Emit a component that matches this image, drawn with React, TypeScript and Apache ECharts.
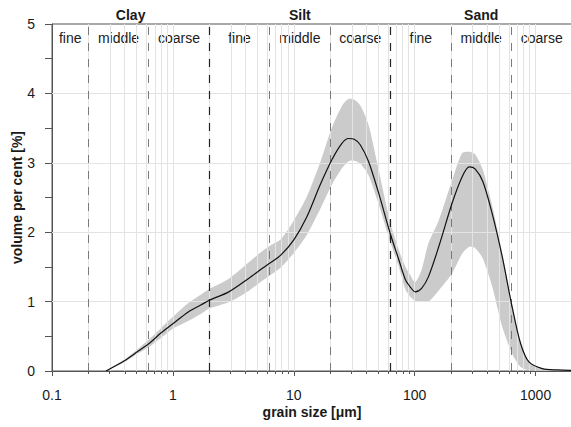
import { useEffect, useRef } from "react";
import * as echarts from "echarts";

// grain size [µm]
const sizes = [
  0.28, 0.4, 0.5, 0.64, 0.8, 1.0, 1.34, 1.7, 2.0, 2.9, 4.2, 5.5, 6.4, 7.8, 10,
  12.8, 16.5, 20.6, 25, 28.3, 31.6, 35.4, 41.5, 50, 63, 74, 84, 92, 101, 114,
  130, 158, 204, 247, 283, 317, 366, 437, 529, 640, 750, 880, 1135, 1500, 2000,
];
// mean volume per cent
const meanVals = [
  0, 0.15, 0.27, 0.4, 0.55, 0.68, 0.85, 0.95, 1.02, 1.14, 1.33, 1.48, 1.56, 1.67,
  1.89, 2.22, 2.68, 3.04, 3.28, 3.35, 3.34, 3.26, 3.02, 2.58, 1.97, 1.6, 1.31,
  1.21, 1.14, 1.19, 1.36, 1.79, 2.42, 2.8, 2.94, 2.91, 2.73, 2.27, 1.65, 0.92,
  0.4, 0.13, 0.035, 0.015, 0.01,
];
// lower envelope
const lowerVals = [
  0, 0.13, 0.24, 0.35, 0.48, 0.61, 0.72, 0.82, 0.9, 0.99, 1.15, 1.3, 1.38, 1.49,
  1.7, 1.96, 2.33, 2.68, 2.92, 3.02, 3.03, 2.99, 2.82, 2.42, 1.85, 1.5, 1.17,
  1.07, 1.01, 1.0, 1.0, 1.16, 1.41, 1.69, 1.79, 1.77, 1.62, 1.22, 0.64, 0.25,
  0.06, 0.01, 0, 0, 0,
];
// upper envelope
const upperVals = [
  0, 0.17, 0.3, 0.46, 0.62, 0.78, 0.98, 1.1, 1.18, 1.33, 1.56, 1.73, 1.81, 1.9,
  2.17, 2.51, 3.0, 3.5, 3.82, 3.92, 3.91, 3.83, 3.55, 2.92, 2.13, 1.74, 1.5,
  1.38, 1.28, 1.46, 1.84, 2.17, 2.75, 3.14, 3.16, 3.12, 2.9, 2.38, 1.7, 0.95,
  0.42, 0.14, 0.04, 0.015, 0.01,
];

const xMin = 0.1;
const xMax = 2000;
const xTickLabels = [0.1, 1, 10, 100, 1000];
const yMin = 0;
const yMax = 5;
const yGridValues = [1, 2, 3, 4];

const classNames = ["Clay", "Silt", "Sand"];
const classBounds = [0.1, 2, 63, 2000];
const subNames = ["fine", "middle", "coarse", "fine", "middle", "coarse", "fine", "middle", "coarse"];
const subBounds = [0.1, 0.2, 0.63, 2, 6.3, 20, 63, 200, 630, 2000];
const mainBoundaries = [2, 63];
const subBoundaries = [0.2, 0.63, 6.3, 20, 200, 630];

const FONT = "'Liberation Sans', Arial, sans-serif";
const lg = (v: number) => Math.log10(v);

export default function App() {
  const ref = useRef<HTMLDivElement>(null);

  useEffect(() => {
    document.body.style.margin = "0";
    if (!ref.current) return;
    const chart = echarts.init(ref.current, null, { renderer: "svg" });

    const minorVals: number[] = [];
    for (const d of [0.1, 1, 10, 100, 1000]) {
      for (let k = 1; k <= 9; k++) {
        const v = +(k * d).toPrecision(3);
        if (v > xMin && v < xMax) minorVals.push(v);
      }
    }

    const bandData = sizes.map((s, i) => [lg(s), lowerVals[i], upperVals[i]]);
    const meanData = sizes.map((s, i) => [lg(s), meanVals[i]]);

    const gridLines = [
      ...minorVals.map((v) => ({ xAxis: lg(v) })),
      ...yGridValues.map((v) => ({ yAxis: v })),
    ];

    const classAreas = classNames.map((n, i) => [
      { name: n, xAxis: lg(classBounds[i]) },
      { xAxis: lg(classBounds[i + 1]) },
    ]);
    const subAreas = subNames.map((n, i) => [
      { name: n, xAxis: lg(subBounds[i]) },
      { xAxis: lg(subBounds[i + 1]) },
    ]);

    const fmt = (v: number) => String(Number(Math.pow(10, v).toPrecision(3)));

    chart.setOption({
      animation: false,
      textStyle: { fontFamily: FONT },
      grid: {
        left: 52,
        right: -1,
        top: 24,
        bottom: 56,
        containLabel: false,
        outerBoundsMode: "none",
        show: true,
        borderColor: "#555",
        borderWidth: 1,
        backgroundColor: "transparent",
      },
      xAxis: [
        {
          type: "value",
          min: lg(xMin),
          max: lg(xMax),
          name: "grain size [μm]",
          nameLocation: "middle",
          nameGap: 34,
          nameMoveOverlap: false,
          nameTextStyle: { fontSize: 14, fontWeight: "bold", color: "#1a1a1a", fontFamily: FONT },
          axisLine: { show: true, onZero: false, lineStyle: { color: "#555", width: 1 } },
          axisTick: {
            show: true,
            length: 5,
            customValues: xTickLabels.map(lg),
            lineStyle: { color: "#555" },
          },
          axisLabel: {
            customValues: xTickLabels.map(lg),
            formatter: fmt,
            fontSize: 14,
            color: "#1a1a1a",
            margin: 17,
            fontFamily: FONT,
          },
          splitLine: { show: false },
        },
        {
          type: "value",
          position: "bottom",
          min: lg(xMin),
          max: lg(xMax),
          axisLine: { show: false, onZero: false },
          axisTick: {
            show: true,
            length: 3,
            customValues: minorVals.map(lg),
            lineStyle: { color: "#555" },
          },
          axisLabel: { show: false },
          splitLine: { show: false },
        },
      ],
      yAxis: {
        type: "value",
        min: yMin,
        max: yMax,
        interval: 1,
        name: "volume per cent [%]",
        nameLocation: "middle",
        nameGap: 28,
        nameMoveOverlap: false,
        nameRotate: 90,
        nameTextStyle: { fontSize: 14, fontWeight: "bold", color: "#1a1a1a", fontFamily: FONT },
        axisLine: { show: true, onZero: false, lineStyle: { color: "#555", width: 1 } },
        axisTick: { show: true, length: 7, lineStyle: { color: "#555" } },
        minorTick: { show: true, splitNumber: 2, length: 7, lineStyle: { color: "#555" } },
        axisLabel: { fontSize: 14, color: "#1a1a1a", margin: 17, fontFamily: FONT },
        splitLine: { show: false },
      },
      series: [
        {
          name: "band",
          type: "custom",
          data: bandData,
          encode: { x: 0, y: [1, 2] },
          clip: true,
          silent: true,
          z: 1,
          renderItem: (params: any, api: any) => {
            if (params.dataIndex !== 0) return null;
            const pts: number[][] = [];
            for (let i = 0; i < sizes.length; i++) {
              pts.push(api.coord([lg(sizes[i]), upperVals[i]]));
            }
            for (let i = sizes.length - 1; i >= 0; i--) {
              pts.push(api.coord([lg(sizes[i]), lowerVals[i]]));
            }
            return {
              type: "polygon",
              shape: { points: pts, smooth: 0.25 },
              style: { fill: "#cbcbcb", stroke: "none" },
              silent: true,
            };
          },
        },
        {
          name: "grid",
          type: "line",
          data: [],
          silent: true,
          markLine: {
            silent: true,
            z: 2,
            symbol: ["none", "none"],
            label: { show: false },
            lineStyle: { color: "#e3e3e3", width: 1, type: "solid" },
            data: gridLines,
          },
        },
        {
          name: "boundaries",
          type: "line",
          data: [],
          silent: true,
          markLine: {
            silent: true,
            z: 3,
            symbol: ["none", "none"],
            label: { show: false },
            data: [
              ...subBoundaries.map((v) => ({
                xAxis: lg(v),
                lineStyle: { color: "#7a7a7a", width: 1, type: [8, 8] },
              })),
              ...mainBoundaries.map((v) => ({
                xAxis: lg(v),
                lineStyle: { color: "#222", width: 1.2, type: [8, 8] },
              })),
            ],
          },
          markArea: {
            silent: true,
            itemStyle: { color: "transparent" },
            label: {
              show: true,
              position: "insideTop",
              distance: 7,
              fontSize: 14,
              color: "#1a1a1a",
              fontFamily: FONT,
            },
            data: subAreas,
          },
        },
        {
          name: "classes",
          type: "line",
          data: [],
          silent: true,
          markArea: {
            silent: true,
            itemStyle: { color: "transparent" },
            label: {
              show: true,
              position: "top",
              distance: 2,
              fontSize: 14,
              fontWeight: "bold",
              color: "#1a1a1a",
              fontFamily: FONT,
            },
            data: classAreas,
          },
        },
        {
          name: "mean",
          type: "line",
          data: meanData,
          smooth: 0.3,
          symbol: "none",
          lineStyle: { color: "#111", width: 1.2 },
          z: 10,
          silent: true,
        },
      ],
    });

    return () => chart.dispose();
  }, []);

  return <div ref={ref} style={{ width: 571, height: 427 }} />;
}
